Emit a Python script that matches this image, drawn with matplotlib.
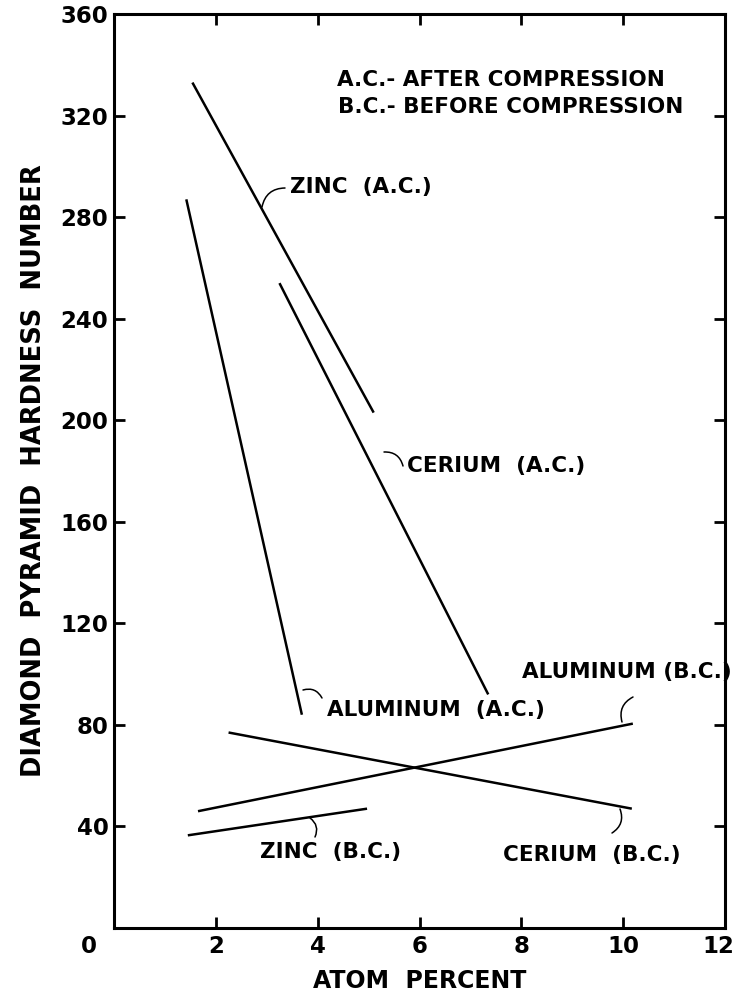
import matplotlib
matplotlib.use("Agg")
import matplotlib.pyplot as plt
from matplotlib.transforms import ScaledTranslation

# ---- data ----
zinc_ac_x = [1.54, 5.10]
zinc_ac_y = [333, 203]
alum_ac_x = [1.42, 3.69]
alum_ac_y = [287, 84]
cer_ac_x = [3.25, 7.35]
cer_ac_y = [254, 92]
alum_bc_x = [1.65, 10.19]
alum_bc_y = [46, 80.5]
cer_bc_x = [2.25, 10.17]
cer_bc_y = [77, 47]
zinc_bc_x = [1.45, 4.97]
zinc_bc_y = [36.5, 47]

x_ticks = [0, 2, 4, 6, 8, 10, 12]
x_ticklabels = ["0", "2", "4", "6", "8", "10", "12"]
y_ticks = [0, 40, 80, 120, 160, 200, 240, 280, 320, 360]
y_ticklabels = ["", "40", "80", "120", "160", "200", "240", "280", "320", "360"]

plt.rcParams['font.family'] = ['DejaVu Sans']
plt.rcParams['font.weight'] = 'bold'

W, H = 734, 999
fig = plt.figure(figsize=(W / 100, H / 100), dpi=100)
L, R, T, B = 114, 725, 14, 928
ax = fig.add_axes([L / W, 1 - B / H, (R - L) / W, (B - T) / H])
ax.set_xlim(0, 12)
ax.set_ylim(0, 360)

lw = 1.8
for xs, ys in [(zinc_ac_x, zinc_ac_y), (alum_ac_x, alum_ac_y), (cer_ac_x, cer_ac_y),
               (alum_bc_x, alum_bc_y), (cer_bc_x, cer_bc_y), (zinc_bc_x, zinc_bc_y)]:
    ax.plot(xs, ys, color='black', lw=lw, solid_capstyle='butt')

for s in ax.spines.values():
    s.set_linewidth(2.2)

ax.set_xticks(x_ticks)
ax.set_xticklabels(x_ticklabels)
ax.set_yticks(y_ticks)
ax.set_yticklabels(y_ticklabels)
ax.tick_params(direction='in', length=8, width=2.0, top=True, right=True,
               labelsize=16.5)
ax.tick_params(axis='y', pad=4)
ax.tick_params(axis='x', pad=5)
xl = ax.get_xticklabels()
for lab in xl + ax.get_yticklabels():
    lab.set_fontweight('bold')
xl[0].set_transform(xl[0].get_transform() + ScaledTranslation(-0.25, 0, fig.dpi_scale_trans))
xl[-1].set_transform(xl[-1].get_transform() + ScaledTranslation(-0.07, 0, fig.dpi_scale_trans))

ax.set_xlabel("ATOM  PERCENT", fontsize=17, fontweight='bold', labelpad=8)
ax.set_ylabel("DIAMOND  PYRAMID  HARDNESS  NUMBER", fontsize=18.5, fontweight='bold', labelpad=10)


def px(xp, yp):
    return ((xp - L) / (R - L) * 12, (B - yp) / (B - T) * 360)


tfs = 15.5
def label(text, xp, yp, ha='left'):
    x, y = px(xp, yp)
    ax.text(x, y, text, fontsize=tfs, fontweight='bold', ha=ha, va='center')


def leader(p0, p1, rad=0.4):
    ax.annotate("", xy=px(*p1), xytext=px(*p0),
                arrowprops=dict(arrowstyle='-', lw=1.1, color='black',
                                connectionstyle=f"arc3,rad={rad}",
                                shrinkA=0, shrinkB=0))


label("A.C.- AFTER COMPRESSION", 665, 80, ha='right')
label("B.C.- BEFORE COMPRESSION", 683, 107, ha='right')

label("ZINC  (A.C.)", 290, 187)
leader((285, 188), (262, 207))
label("CERIUM  (A.C.)", 407, 466)
leader((403, 466), (384, 452))
label("ALUMINUM  (A.C.)", 327, 710)
leader((322, 698), (303, 690))
label("ALUMINUM (B.C.)", 522, 672)
leader((633, 697), (622, 722))
label("ZINC  (B.C.)", 260, 852)
leader((315, 837), (310, 818))
label("CERIUM  (B.C.)", 503, 855)
leader((612, 833), (620, 809))

fig.savefig("out.png", dpi=100)
